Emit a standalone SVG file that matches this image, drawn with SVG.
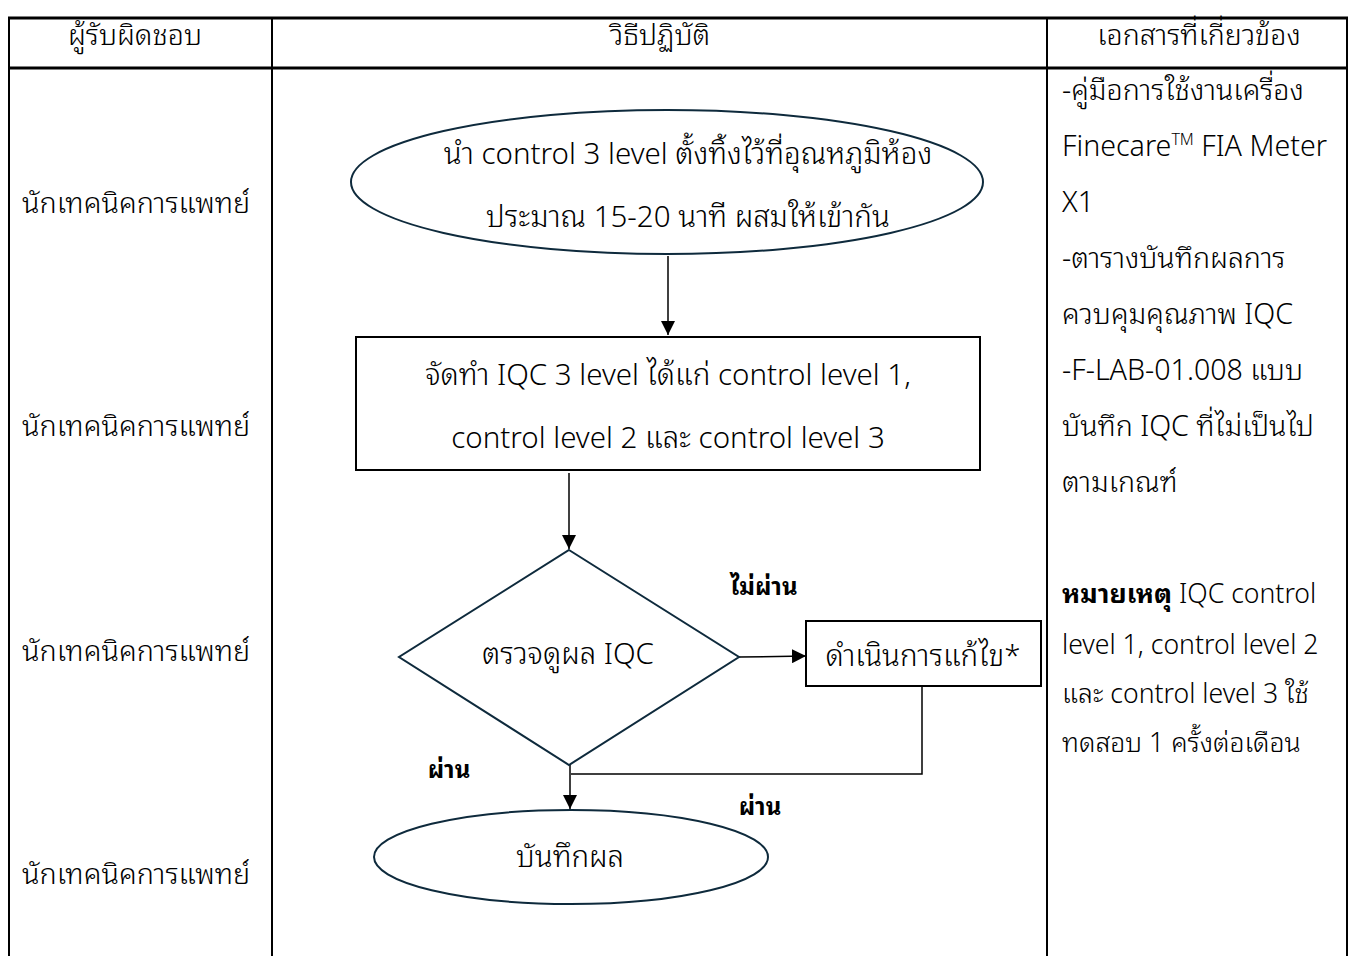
<svg xmlns="http://www.w3.org/2000/svg" width="1357" height="956" viewBox="0 0 1357 956">
  <defs>
    <marker id="arrow" viewBox="0 0 10 10" refX="10" refY="5" markerWidth="14" markerHeight="14" markerUnits="userSpaceOnUse" orient="auto">
      <path d="M0,0 L10,5 L0,10 z" fill="#000"/>
    </marker>
    <style>
      text { font-family: "Noto Sans Thai Looped", "Noto Sans Thai", "Noto Sans", "DejaVu Sans", sans-serif; fill: #000; font-weight: 300; }
      .hdr { font-size: 28.5px; text-anchor: middle; }
      .role { font-size: 28.8px; }
      .node-text { font-size: 29.5px; text-anchor: middle; }
      .doc { font-size: 28.6px; }
      .note { font-size: 26.6px; }
      .lbl { font-size: 24px; font-weight: bold; text-anchor: middle; }
      .grid { stroke: #000; stroke-width: 2; fill: none; }
      .grid-thick { stroke: #000; stroke-width: 3; fill: none; }
      .shape { fill: #fff; stroke: #0e2a3c; stroke-width: 2; }
      .box { fill: #fff; stroke: #000; stroke-width: 2; }
      .conn { stroke: #000; stroke-width: 1.5; fill: none; }
    </style>
  </defs>

  <rect width="1357" height="956" fill="#fff"/>

  <!-- table frame -->
  <g id="table">
    <line class="grid-thick" x1="8" y1="18" x2="1348" y2="18"/>
    <line class="grid-thick" x1="8" y1="68" x2="1348" y2="68"/>
    <line class="grid" x1="9" y1="18" x2="9" y2="956"/>
    <line class="grid" x1="272" y1="18" x2="272" y2="956"/>
    <line class="grid" x1="1047" y1="18" x2="1047" y2="956"/>
    <line class="grid" x1="1347" y1="18" x2="1347" y2="956"/>
    <text class="hdr" x="135" y="45">ผู้รับผิดชอบ</text>
    <text class="hdr" x="660" y="45">วิธีปฏิบัติ</text>
    <text class="hdr" x="1199" y="45">เอกสารที่เกี่ยวข้อง</text>
  </g>

  <!-- responsible role column -->
  <g id="roles">
    <text class="role" x="22" y="213">นักเทคนิคการแพทย์</text>
    <text class="role" x="22" y="436">นักเทคนิคการแพทย์</text>
    <text class="role" x="22" y="661">นักเทคนิคการแพทย์</text>
    <text class="role" x="22" y="884">นักเทคนิคการแพทย์</text>
  </g>

  <!-- connectors -->
  <g id="connectors">
    <line class="conn" x1="668" y1="256" x2="668" y2="335" marker-end="url(#arrow)"/>
    <line class="conn" x1="569" y1="473" x2="569" y2="549" marker-end="url(#arrow)"/>
    <line class="conn" x1="739" y1="657" x2="806" y2="656" marker-end="url(#arrow)"/>
    <polyline class="conn" points="922,687 922,774 571,774"/>
    <line class="conn" x1="570" y1="765" x2="570" y2="809" marker-end="url(#arrow)"/>
    <text class="lbl" x="764" y="595">ไม่ผ่าน</text>
    <text class="lbl" x="449" y="778">ผ่าน</text>
    <text class="lbl" x="760" y="815">ผ่าน</text>
  </g>

  <g id="start">
    <ellipse class="shape" cx="667" cy="182" rx="316" ry="72"/>
    <text class="node-text" x="688" y="164">นำ control 3 level ตั้งทิ้งไว้ที่อุณหภูมิห้อง</text>
    <text class="node-text" x="688" y="227">ประมาณ 15-20 นาที ผสมให้เข้ากัน</text>
  </g>

  <g id="prepare">
    <rect class="box" x="356" y="337" width="624" height="133"/>
    <text class="node-text" x="668" y="385">จัดทำ IQC 3 level ได้แก่ control level 1,</text>
    <text class="node-text" x="668" y="448">control level 2  และ control level 3</text>
  </g>

  <g id="check">
    <polygon class="shape" points="569,550 739,657 569,765 399,657"/>
    <text class="node-text" x="568" y="664">ตรวจดูผล IQC</text>
  </g>

  <g id="fix">
    <rect class="box" x="806" y="621" width="235" height="65"/>
    <text class="node-text" x="923" y="666">ดำเนินการแก้ไข*</text>
  </g>

  <g id="record">
    <ellipse class="shape" cx="571" cy="857" rx="197" ry="47"/>
    <text class="node-text" x="570" y="867">บันทึกผล</text>
  </g>

  <!-- related documents column -->
  <g id="documents">
    <text class="doc" x="1062" y="100">-คู่มือการใช้งานเครื่อง</text>
    <text class="doc" x="1062" y="156">Finecare<tspan font-size="16" dy="-11">TM</tspan><tspan dy="11"> FIA Meter</tspan></text>
    <text class="doc" x="1062" y="212">X1</text>
    <text class="doc" x="1062" y="268">-ตารางบันทึกผลการ</text>
    <text class="doc" x="1062" y="324">ควบคุมคุณภาพ IQC</text>
    <text class="doc" x="1062" y="380">-F-LAB-01.008 แบบ</text>
    <text class="doc" x="1062" y="436">บันทึก IQC ที่ไม่เป็นไป</text>
    <text class="doc" x="1062" y="492">ตามเกณฑ์</text>
    <text class="note" x="1062" y="603"><tspan font-weight="bold">หมายเหตุ</tspan> IQC control</text>
    <text class="note" x="1062" y="654">level 1, control level 2</text>
    <text class="note" x="1062" y="703">และ control level 3 ใช้</text>
    <text class="note" x="1062" y="752">ทดสอบ 1 ครั้งต่อเดือน</text>
  </g>
</svg>
